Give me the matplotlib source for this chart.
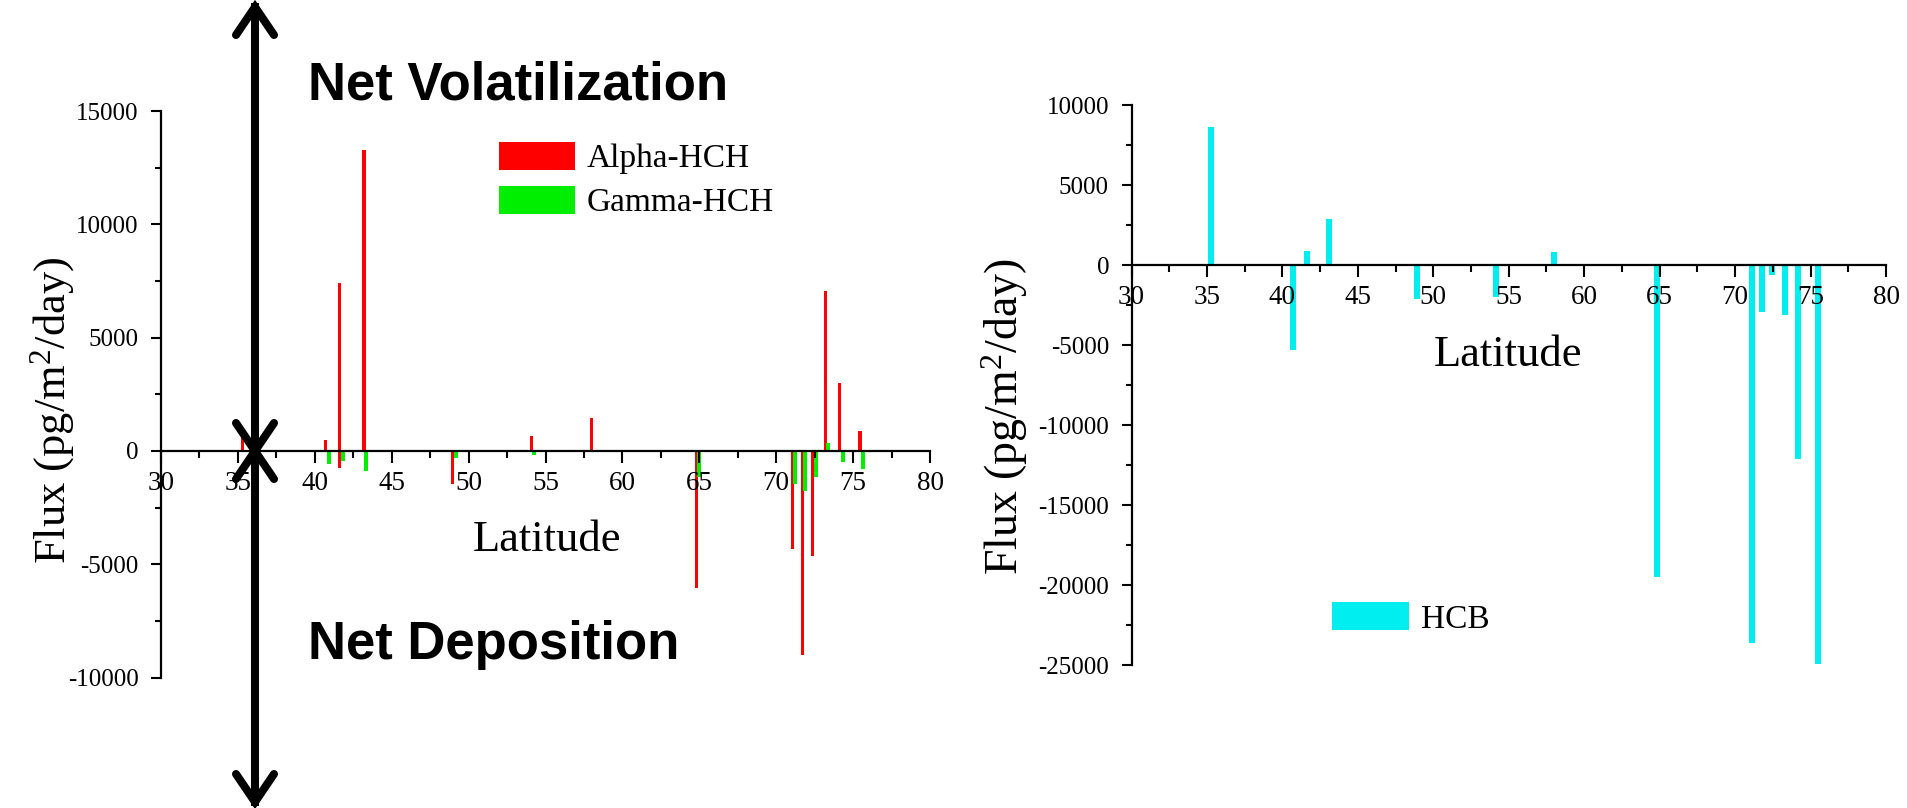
import matplotlib
matplotlib.use("Agg")
import matplotlib.pyplot as plt
from matplotlib.lines import Line2D
from matplotlib.ticker import MultipleLocator

# latitude / flux values
lat_alpha = [35.3, 40.7, 41.6, 41.6, 43.2, 48.95, 54.1, 58.0, 64.8, 71.05, 71.7, 72.35, 73.2, 74.1, 75.45]
flux_alpha = [700, 500, 7400, -750, 13300, -1450, 650, 1450, -6050, -4350, -9000, -4650, 7050, 3000, 900]

lat_gamma = [40.9, 41.85, 43.35, 49.15, 54.25, 64.95, 71.25, 71.9, 72.6, 73.4, 74.35, 75.62]
flux_gamma = [-600, -450, -880, -300, -200, -1150, -1450, -1780, -1150, 340, -490, -790]

lat_hcb = [35.25, 40.7, 41.65, 43.1, 48.95, 54.15, 58.0, 64.8, 71.1, 71.8, 72.45, 73.3, 74.2, 75.5]
flux_hcb = [8600, -5300, 850, 2900, -2150, -2000, 800, -19500, -23600, -2950, -650, -3130, -12150, -24950]

W, H = 1907, 808
SERIF = "Liberation Serif"
plt.rcParams["axes.unicode_minus"] = False
plt.rcParams["mathtext.fontset"] = "custom"
plt.rcParams["mathtext.rm"] = SERIF
plt.rcParams["mathtext.it"] = SERIF


def fx(px):
    return px / W


def fy(py):
    return 1 - py / H


def style_axes(ax, ylim, ystep):
    ax.set_xlim(30, 80)
    ax.set_ylim(*ylim)
    ax.spines["top"].set_visible(False)
    ax.spines["right"].set_visible(False)
    ax.spines["bottom"].set_position(("data", 0))
    for s in ("left", "bottom"):
        ax.spines[s].set_linewidth(1.6)
    ax.xaxis.set_major_locator(MultipleLocator(5))
    ax.xaxis.set_minor_locator(MultipleLocator(2.5))
    ax.yaxis.set_major_locator(MultipleLocator(ystep))
    ax.yaxis.set_minor_locator(MultipleLocator(ystep / 2))
    ax.tick_params(axis="x", which="major", direction="out", length=8.4, width=1.5, pad=6)
    ax.tick_params(axis="x", which="minor", direction="out", length=4.8, width=1.5)
    ax.tick_params(axis="y", which="major", direction="out", length=7.2, width=1.5, pad=9)
    ax.tick_params(axis="y", which="minor", direction="out", length=4.3, width=1.5)
    for lab in ax.get_xticklabels():
        lab.set_fontfamily(SERIF)
        lab.set_fontsize(19.5)
    for lab in ax.get_yticklabels():
        lab.set_fontfamily(SERIF)
        lab.set_fontsize(18)


fig = plt.figure(figsize=(W / 100, H / 100), dpi=100)

# left panel: HCH isomers
ax1 = fig.add_axes([fx(161), fy(677.5), (930 - 161) / W, (677.5 - 111) / H])
ax1.bar(lat_alpha, flux_alpha, width=0.2, color="#ff0000", label="Alpha-HCH")
ax1.bar(lat_gamma, flux_gamma, width=0.26, color="#00ee00", label="Gamma-HCH")
style_axes(ax1, (-10000, 15000), 5000)
ax1.set_xlabel("Latitude", fontsize=32, fontfamily=SERIF)
ax1.xaxis.set_label_coords(0.502, 0.243)
ax1.xaxis.label.set_va("center")
ax1.set_ylabel("Flux (pg/m$^{2}$/day)", fontsize=32, fontfamily=SERIF)
ax1.yaxis.set_label_coords(-0.141, 0.471)
ax1.yaxis.label.set_va("center")
ax1.legend(loc="upper left", bbox_to_anchor=(0.439, 0.945), frameon=False,
           prop={"family": SERIF, "size": 24}, handlelength=2.3, handleheight=0.9,
           handletextpad=0.35, labelspacing=0.35, borderpad=0, borderaxespad=0)

# right panel: HCB
ax2 = fig.add_axes([fx(1131.5), fy(665), (1886 - 1131.5) / W, (665 - 105) / H])
ax2.bar(lat_hcb, flux_hcb, width=0.4, color="#00eef0", label="HCB")
style_axes(ax2, (-25000, 10000), 5000)
ax2.set_xlabel("Latitude", fontsize=32, fontfamily=SERIF)
ax2.xaxis.set_label_coords(0.499, 0.554)
ax2.xaxis.label.set_va("center")
ax2.set_ylabel("Flux (pg/m$^{2}$/day)", fontsize=33, fontfamily=SERIF)
ax2.yaxis.set_label_coords(-0.168, 0.443)
ax2.yaxis.label.set_va("center")
ax2.legend(loc="upper left", bbox_to_anchor=(0.266, 0.112), frameon=False,
           prop={"family": SERIF, "size": 24}, handlelength=2.3, handleheight=0.9,
           handletextpad=0.35, borderpad=0, borderaxespad=0)

# double arrows: volatilization up, deposition down
ax_x, mid, top, bot = 255, 451, 7, 802
hw, hl = 19, 28
lw = 5.8
fig.add_artist(Line2D([fx(ax_x), fx(ax_x)], [fy(top), fy(bot)], color="black", lw=lw,
                      transform=fig.transFigure))
for tip, d in [(top, 1), (mid, -1), (mid, 1), (bot, -1)]:
    fig.add_artist(Line2D([fx(ax_x - hw), fx(ax_x), fx(ax_x + hw)],
                          [fy(tip + d * hl), fy(tip), fy(tip + d * hl)],
                          color="black", lw=lw, solid_joinstyle="miter",
                          solid_capstyle="round", transform=fig.transFigure))

fig.text(fx(308), fy(85), "Net Volatilization", fontsize=38, fontweight="bold",
         fontfamily="Liberation Sans", ha="left", va="center")
fig.text(fx(308), fy(645), "Net Deposition", fontsize=38, fontweight="bold",
         fontfamily="Liberation Sans", ha="left", va="center")

fig.savefig("out.png", dpi=100)
